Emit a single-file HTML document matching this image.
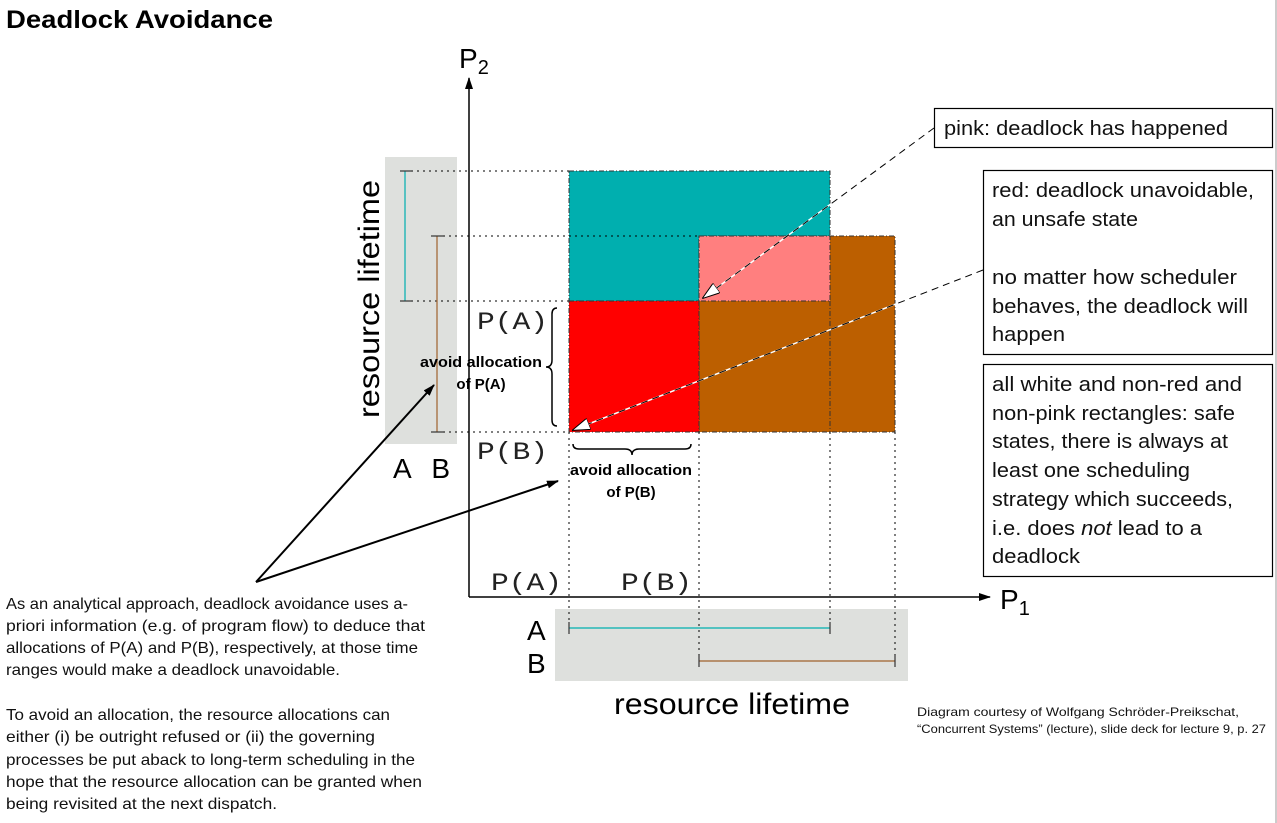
<!DOCTYPE html>
<html><head><meta charset="utf-8"><style>
body{margin:0;background:#fff;width:1277px;height:823px;overflow:hidden}
svg{display:block}
.c{font-family:"Liberation Sans",sans-serif}
.m{font-family:"Liberation Mono",monospace}
</style></head><body>
<svg width="1277" height="823" viewBox="0 0 1277 823" xmlns="http://www.w3.org/2000/svg">
<defs>
<marker id="ah" markerWidth="12" markerHeight="8" refX="11" refY="4" orient="auto" markerUnits="userSpaceOnUse"><path d="M0,0 L12,4 L0,8 Z" fill="#000"/></marker>
<marker id="wh" markerWidth="18" markerHeight="12" refX="17" refY="6" orient="auto" markerUnits="userSpaceOnUse"><path d="M0,0 L18,6 L0,12 Z" fill="#fff" stroke="#000" stroke-width="1"/></marker>
</defs>
<text x="6" y="28" font-family="Liberation Sans,sans-serif" font-weight="bold" font-size="25" textLength="267" lengthAdjust="spacingAndGlyphs">Deadlock Avoidance</text>
<line x1="1276" y1="0" x2="1276" y2="823" stroke="#ccc" stroke-width="2"/>

<rect x="385" y="157" width="72" height="287" fill="#dee0dd"/>
<rect x="555" y="609" width="353" height="72" fill="#dee0dd"/>

<rect x="699" y="236" width="196" height="196" fill="#bc5f00" stroke="#333" stroke-dasharray="5,2,1,2"/>
<path d="M569,171 H830 V236 H699 V301 H569 Z" fill="#00afaf" stroke="#333" stroke-dasharray="5,2,1,2"/>
<rect x="699" y="236" width="131" height="65" fill="#ff7f7f" stroke="#333" stroke-dasharray="5,2,1,2"/>
<rect x="569" y="301" width="130" height="131" fill="#ff0000" stroke="#333" stroke-dasharray="5,2,1,2"/>
<line x1="830" y1="301" x2="830" y2="432" stroke="#333" stroke-dasharray="5,2,1,2"/>

<g stroke="#000" stroke-dasharray="2,4" stroke-width="1">
<line x1="405" y1="171" x2="569" y2="171"/>
<line x1="437" y1="236" x2="699" y2="236"/>
<line x1="405" y1="301" x2="569" y2="301"/>
<line x1="437" y1="432" x2="569" y2="432"/>
<line x1="569" y1="432" x2="569" y2="628"/>
<line x1="699" y1="432" x2="699" y2="661"/>
<line x1="830" y1="432" x2="830" y2="628"/>
<line x1="895" y1="432" x2="895" y2="661"/>
</g>

<g stroke-width="1.2">
<line x1="405" y1="171" x2="405" y2="301" stroke="#00afaf"/>
<line x1="400" y1="171" x2="411" y2="171" stroke="#333"/><line x1="400" y1="301" x2="411" y2="301" stroke="#333"/>
<line x1="437" y1="236" x2="437" y2="432" stroke="#a0622d"/>
<line x1="431" y1="236" x2="443" y2="236" stroke="#333"/><line x1="431" y1="432" x2="443" y2="432" stroke="#333"/>
<line x1="569" y1="628" x2="830" y2="628" stroke="#00afaf"/>
<line x1="569" y1="622" x2="569" y2="634" stroke="#333"/><line x1="830" y1="622" x2="830" y2="634" stroke="#333"/>
<line x1="699" y1="661" x2="895" y2="661" stroke="#a0622d"/>
<line x1="699" y1="655" x2="699" y2="667" stroke="#333"/><line x1="895" y1="655" x2="895" y2="667" stroke="#333"/>
</g>

<line x1="469" y1="597" x2="469" y2="78" stroke="#000" stroke-width="1.5" marker-end="url(#ah)"/>
<line x1="469" y1="597" x2="990" y2="597" stroke="#000" stroke-width="1.5" marker-end="url(#ah)"/>
<text x="459" y="68" class="c" font-size="28">P<tspan font-size="20" dy="6">2</tspan></text>
<text x="1000" y="609" class="c" font-size="28">P<tspan font-size="20" dy="6">1</tspan></text>

<text transform="translate(379,299) rotate(-90)" text-anchor="middle" class="c" font-size="30" textLength="238" lengthAdjust="spacingAndGlyphs">resource lifetime</text>
<text x="393" y="478" class="c" font-size="28" textLength="57" lengthAdjust="spacing">A B</text>
<text x="614" y="714" class="c" font-size="30" textLength="236" lengthAdjust="spacingAndGlyphs">resource lifetime</text>
<text x="527" y="640" class="c" font-size="28">A</text>
<text x="527" y="673" class="c" font-size="28">B</text>
<g class="m" font-size="25" fill="#222">
<text x="477" y="329" textLength="71" lengthAdjust="spacingAndGlyphs">P(A)</text>
<text x="477" y="459" textLength="71" lengthAdjust="spacingAndGlyphs">P(B)</text>
<text x="491" y="590" textLength="71" lengthAdjust="spacingAndGlyphs">P(A)</text>
<text x="621" y="590" textLength="71" lengthAdjust="spacingAndGlyphs">P(B)</text>
</g>
<g font-family="Liberation Sans,sans-serif" font-weight="bold" font-size="15" text-anchor="middle">
<text x="481" y="367" textLength="122" lengthAdjust="spacingAndGlyphs">avoid allocation</text>
<text x="481" y="389">of P(A)</text>
<text x="631" y="475" textLength="122" lengthAdjust="spacingAndGlyphs">avoid allocation</text>
<text x="631" y="497">of P(B)</text>
</g>
<path d="M557,308 Q552,308 552,314 V360 Q552,367 546,367 Q552,367 552,374 V420 Q552,426 557,426" fill="none" stroke="#000" stroke-width="1.5"/>
<path d="M573,444 Q573,449 579,449 H625 Q632,449 632,455 Q632,449 639,449 H685 Q691,449 691,444" fill="none" stroke="#000" stroke-width="1.5"/>

<line x1="934" y1="128" x2="703" y2="298" stroke="#fff" stroke-width="1.5"/>
<line x1="934" y1="128" x2="703" y2="298" stroke="#000" stroke-dasharray="7,5" marker-end="url(#wh)"/>
<line x1="983" y1="270" x2="573" y2="430" stroke="#fff" stroke-width="1.5"/>
<line x1="983" y1="270" x2="573" y2="430" stroke="#000" stroke-dasharray="7,5" marker-end="url(#wh)"/>

<line x1="256" y1="582" x2="434" y2="385" stroke="#000" stroke-width="2" marker-end="url(#ah)"/>
<line x1="256" y1="582" x2="558" y2="481" stroke="#000" stroke-width="2" marker-end="url(#ah)"/>

<g fill="#fff" stroke="#000" stroke-width="1.2">
<rect x="934.5" y="108.5" width="338" height="39"/>
<rect x="983.5" y="170.5" width="289" height="184"/>
<rect x="983.5" y="364.5" width="289" height="212"/>
</g>
<g font-family="Liberation Sans,sans-serif" font-size="20" fill="#111">
<text x="944" y="135" textLength="284" lengthAdjust="spacingAndGlyphs">pink: deadlock has happened</text>
<text x="992" y="197" textLength="262" lengthAdjust="spacingAndGlyphs">red: deadlock unavoidable,</text>
<text x="992" y="226" textLength="146" lengthAdjust="spacingAndGlyphs">an unsafe state</text>
<text x="992" y="284" textLength="245" lengthAdjust="spacingAndGlyphs">no matter how scheduler</text>
<text x="992" y="313" textLength="256" lengthAdjust="spacingAndGlyphs">behaves, the deadlock will</text>
<text x="992" y="341" textLength="73" lengthAdjust="spacingAndGlyphs">happen</text>
<text x="992" y="391" textLength="250" lengthAdjust="spacingAndGlyphs">all white and non-red and</text>
<text x="992" y="420" textLength="243" lengthAdjust="spacingAndGlyphs">non-pink rectangles: safe</text>
<text x="992" y="448" textLength="236" lengthAdjust="spacingAndGlyphs">states, there is always at</text>
<text x="992" y="477" textLength="198" lengthAdjust="spacingAndGlyphs">least one scheduling</text>
<text x="992" y="506" textLength="241" lengthAdjust="spacingAndGlyphs">strategy which succeeds,</text>
<text x="992" y="535" textLength="210" lengthAdjust="spacingAndGlyphs">i.e. does <tspan font-style="italic">not</tspan> lead to a</text>
<text x="992" y="563" textLength="88" lengthAdjust="spacingAndGlyphs">deadlock</text>
</g>
<g font-family="Liberation Sans,sans-serif" font-size="16" fill="#111">
<text x="6" y="609" textLength="402" lengthAdjust="spacingAndGlyphs">As an analytical approach, deadlock avoidance uses a-</text>
<text x="6" y="631" textLength="419" lengthAdjust="spacingAndGlyphs">priori information (e.g. of program flow) to deduce that</text>
<text x="6" y="653" textLength="412" lengthAdjust="spacingAndGlyphs">allocations of P(A) and P(B), respectively, at those time</text>
<text x="6" y="675" textLength="334" lengthAdjust="spacingAndGlyphs">ranges would make a deadlock unavoidable.</text>
<text x="6" y="720" textLength="384" lengthAdjust="spacingAndGlyphs">To avoid an allocation, the resource allocations can</text>
<text x="6" y="742" textLength="369" lengthAdjust="spacingAndGlyphs">either (i) be outright refused or (ii) the governing</text>
<text x="6" y="765" textLength="409" lengthAdjust="spacingAndGlyphs">processes be put aback to long-term scheduling in the</text>
<text x="6" y="787" textLength="416" lengthAdjust="spacingAndGlyphs">hope that the resource allocation can be granted when</text>
<text x="6" y="809" textLength="271" lengthAdjust="spacingAndGlyphs">being revisited at the next dispatch.</text>
</g>
<g font-family="Liberation Sans,sans-serif" font-size="12" fill="#111">
<text x="917" y="716" textLength="322" lengthAdjust="spacingAndGlyphs">Diagram courtesy of Wolfgang Schröder-Preikschat,</text>
<text x="917" y="733" textLength="349" lengthAdjust="spacingAndGlyphs">“Concurrent Systems” (lecture), slide deck for lecture 9, p. 27</text>
</g>
</svg>
</body></html>
